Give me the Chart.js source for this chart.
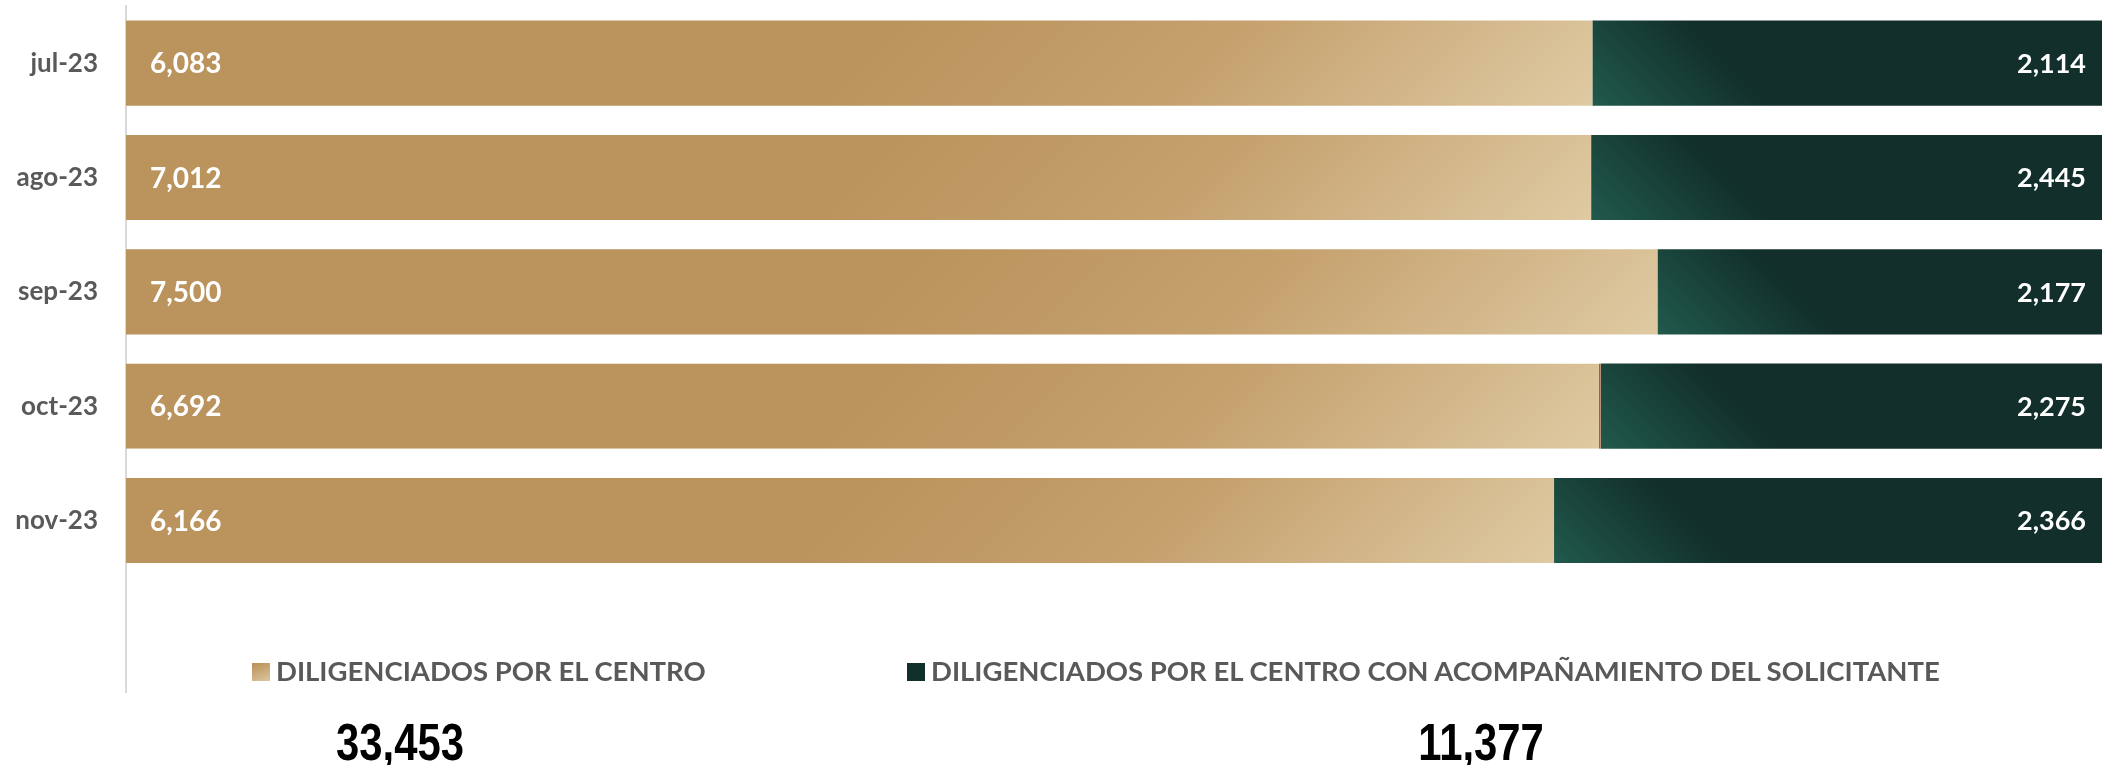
<!DOCTYPE html>
<html>
<head>
<meta charset="utf-8">
<script src="https://cdn.jsdelivr.net/npm/chart.js@4.4.1/dist/chart.umd.min.js"></script>
<style>
  html, body { margin: 0; padding: 0; background: #fff; }
  #wrap { position: relative; width: 2106px; height: 765px; }
  #grafico { position: absolute; left: 0; top: 0; }
  .leyenda { position: absolute; top: 656px; font: bold 27.5px Lato, sans-serif; color: #595959; white-space: nowrap; line-height: 30px; }
  .caja { display: inline-block; width: 18px; height: 18px; vertical-align: 0px; margin-right: 6px; }
  .total { position: absolute; top: 715px; font: bold 51px "Liberation Sans", Arial, sans-serif; color: #000; transform: translateX(-50%) scaleX(0.82); line-height: 56px; }
</style>
</head>
<body>
<div id="wrap">
  <canvas id="grafico" width="2106" height="765"></canvas>
  <div class="leyenda" id="leg1" style="left:252px"><span class="caja" style="background:linear-gradient(160deg,#b88f57,#dcc69e)"></span><span id="leg1txt"></span></div>
  <div class="leyenda" id="leg2" style="left:907px"><span class="caja" style="background:#12302b"></span><span id="leg2txt"></span></div>
  <div class="total" id="total1" style="left:400px"></div>
  <div class="total" id="total2" style="left:1481px"></div>
</div>
<script>
var meses = ["jul-23", "ago-23", "sep-23", "oct-23", "nov-23", ""];
var porCentro = [6083, 7012, 7500, 6692, 6166];
var conAcompanamiento = [2114, 2445, 2177, 2275, 2366];
var nombres = ["DILIGENCIADOS POR EL CENTRO", "DILIGENCIADOS POR EL CENTRO CON ACOMPAÑAMIENTO DEL SOLICITANTE"];

function fmt(n) {
  return n.toLocaleString("en-US");
}

var pctCentro = porCentro.map((v, i) => v / (v + conAcompanamiento[i]) * 100);
var pctAcomp = conAcompanamiento.map((v, i) => v / (porCentro[i] + v) * 100);
var valores = [porCentro, conAcompanamiento];

document.getElementById("leg1txt").textContent = nombres[0];
document.getElementById("leg2txt").textContent = nombres[1];
document.getElementById("total1").textContent = fmt(porCentro.reduce((a, b) => a + b, 0));
document.getElementById("total2").textContent = fmt(conAcompanamiento.reduce((a, b) => a + b, 0));

// degradados por barra, calculados con la geometria ya resuelta
var degradados = {
  id: "degradados",
  beforeDatasetsDraw(chart) {
    var ctx = chart.ctx;
    chart.data.datasets.forEach((ds, d) => {
      chart.getDatasetMeta(d).data.forEach(el => {
        var left = Math.min(el.x, el.base), right = Math.max(el.x, el.base);
        var top = el.y - el.height / 2, bottom = el.y + el.height / 2;
        var w = right - left;
        var g;
        if (d === 0) {
          var k = (0.5 * w + el.height / 2) / 2;
          g = ctx.createLinearGradient(right - k, bottom - k, right, bottom);
          g.addColorStop(0, "#bb935d");
          g.addColorStop(0.45, "#c5a16e");
          g.addColorStop(1, "#dfcaa3");
        } else {
          g = ctx.createLinearGradient(left, bottom, left + 90, bottom - 90);
          g.addColorStop(0, "#215a4c");
          g.addColorStop(1, "#122f2b");
        }
        el.options = Object.assign({}, el.options, { backgroundColor: g });
      });
    });
  }
};

var etiquetas = {
  id: "etiquetas",
  afterDatasetsDraw(chart) {
    var ctx = chart.ctx;
    ctx.save();
    ctx.fillStyle = "#ffffff";
    ctx.textBaseline = "middle";
    chart.getDatasetMeta(0).data.forEach((el, i) => {
      if (valores[0][i] == null) return;
      ctx.font = "bold 28px Lato";
      ctx.textAlign = "left";
      ctx.fillText(fmt(valores[0][i]), el.base + 24, el.y + 1);
    });
    chart.getDatasetMeta(1).data.forEach((el, i) => {
      if (valores[1][i] == null) return;
      ctx.font = "bold 27px Lato";
      ctx.textAlign = "right";
      ctx.fillText(fmt(valores[1][i]), el.x - 16, el.y + 1);
    });
    ctx.restore();
  }
};

new Chart(document.getElementById("grafico"), {
  type: "bar",
  data: {
    labels: meses,
    datasets: [
      {
        label: nombres[0],
        data: pctCentro,
        backgroundColor: "#bb935d",
        borderColor: "#c0561a",
        borderWidth: ctx => ctx.dataIndex === 3 ? { top: 0, bottom: 0, left: 0, right: 2 } : 0,
        borderSkipped: false
      },
      {
        label: nombres[1],
        data: pctAcomp,
        backgroundColor: "#122f2b",
        borderWidth: 0
      }
    ]
  },
  options: {
    indexAxis: "y",
    responsive: false,
    animation: false,
    devicePixelRatio: 1,
    categoryPercentage: 1,
    barPercentage: 0.745,
    layout: { padding: { left: 0, right: 4, top: 6, bottom: 73 } },
    plugins: {
      legend: { display: false },
      tooltip: { enabled: false }
    },
    scales: {
      x: { stacked: true, min: 0, max: 100, display: false },
      y: {
        stacked: true,
        afterFit: s => { s.width = 126; s.paddingTop = 0; s.paddingBottom = 0; },
        grid: { display: false, drawTicks: false },
        border: { display: true, color: "#d9d9d9", width: 2 },
        ticks: {
          padding: 28,
          color: "#595959",
          font: { family: "Lato", size: 26, weight: "bold" }
        }
      }
    }
  },
  plugins: [degradados, etiquetas]
});
</script>
</body>
</html>
